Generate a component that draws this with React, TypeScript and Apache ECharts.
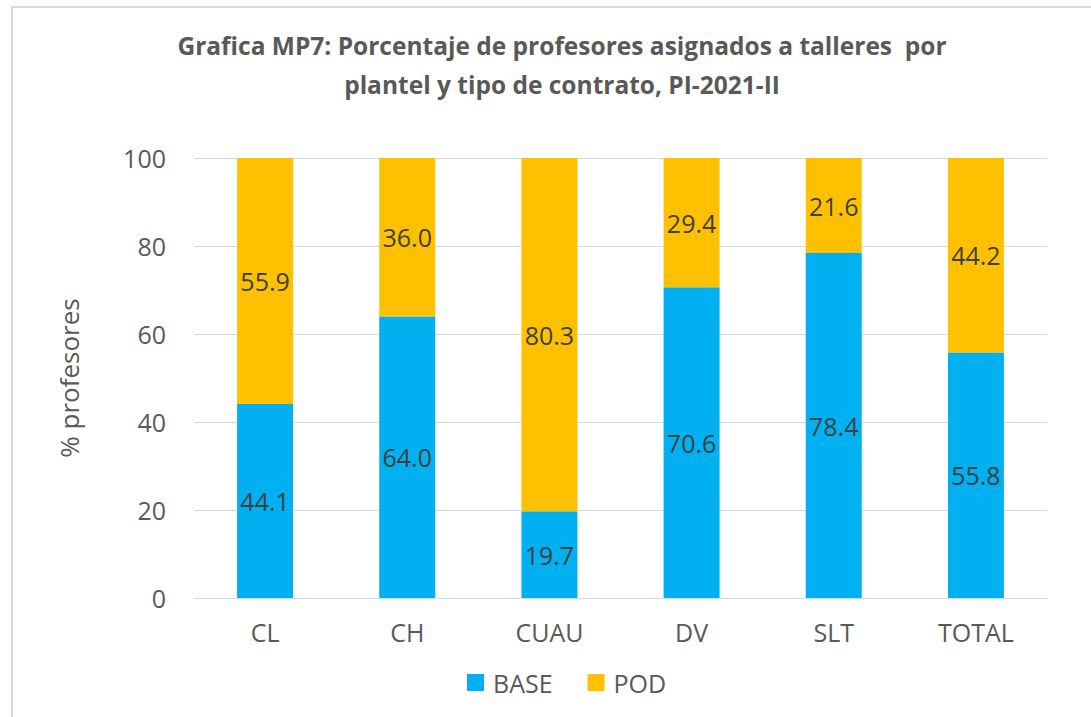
import React, { useEffect, useRef } from "react";
import * as echarts from "echarts";

const categories = ["CL", "CH", "CUAU", "DV", "SLT", "TOTAL"];
const baseValues = [44.1, 64.0, 19.7, 70.6, 78.4, 55.8];
const podValues = [55.9, 36.0, 80.3, 29.4, 21.6, 44.2];
const titleLines = [
  "Grafica MP7: Porcentaje de profesores asignados a talleres  por",
  "plantel y tipo de contrato, PI-2021-II",
];

export default function App() {
  const ref = useRef<HTMLDivElement>(null);
  useEffect(() => {
    if (!ref.current) return;
    const chart = echarts.init(ref.current, undefined, { renderer: "svg" });
    const font = "'Open Sans', sans-serif";
    const labelCfg = {
      show: true,
      position: "inside" as const,
      color: "#404040",
      fontSize: 25,
      fontFamily: font,
      formatter: (p: any) => Number(p.value).toFixed(1),
    };
    chart.setOption({
      animation: false,
      backgroundColor: "#ffffff",
      textStyle: { fontFamily: font },
      title: {
        text: titleLines.join("\n"),
        left: 557,
        textAlign: "center",
        top: 21,
        textStyle: {
          fontFamily: font,
          fontSize: 24.5,
          fontWeight: "bold",
          color: "#595959",
          lineHeight: 39,
        },
      },
      graphic: [
        {
          type: "rect",
          shape: { x: 12, y: 7, width: 1100, height: 720 },
          style: { fill: "none", stroke: "#d9d9d9", lineWidth: 2 },
          silent: true,
        },
      ],
      legend: {
        top: 665,
        left: 462,
        itemWidth: 17,
        itemHeight: 17,
        itemGap: 35,
        icon: "rect",
        textStyle: {
          fontFamily: font,
          fontSize: 25,
          color: "#595959",
          padding: [0, 0, 0, 4],
        },
        data: ["BASE", "POD"],
      },
      grid: { left: 194, right: 44, top: 158, bottom: 119 },
      xAxis: {
        type: "category",
        data: categories,
        axisLine: { lineStyle: { color: "#d9d9d9", width: 1 } },
        axisTick: { show: false },
        axisLabel: { color: "#595959", fontSize: 25, fontFamily: font, margin: 21 },
      },
      yAxis: {
        type: "value",
        min: 0,
        max: 100,
        interval: 20,
        name: "% profesores",
        nameLocation: "middle",
        nameGap: 112,
        nameTextStyle: { color: "#595959", fontSize: 26, fontFamily: font },
        axisLine: { show: false },
        axisTick: { show: false },
        axisLabel: { color: "#595959", fontSize: 25, fontFamily: font, margin: 28 },
        splitLine: { lineStyle: { color: "#d9d9d9", width: 1 } },
      },
      series: [
        {
          name: "BASE",
          type: "bar",
          stack: "total",
          data: baseValues,
          barWidth: 56,
          itemStyle: { color: "#00b0f0" },
          label: labelCfg,
        },
        {
          name: "POD",
          type: "bar",
          stack: "total",
          data: podValues,
          barWidth: 56,
          itemStyle: { color: "#ffc000" },
          label: labelCfg,
        },
      ],
    });
    return () => chart.dispose();
  }, []);
  return (
    <div
      ref={ref}
      style={{ position: "fixed", left: 0, top: 0, width: 1091, height: 717 }}
    />
  );
}
